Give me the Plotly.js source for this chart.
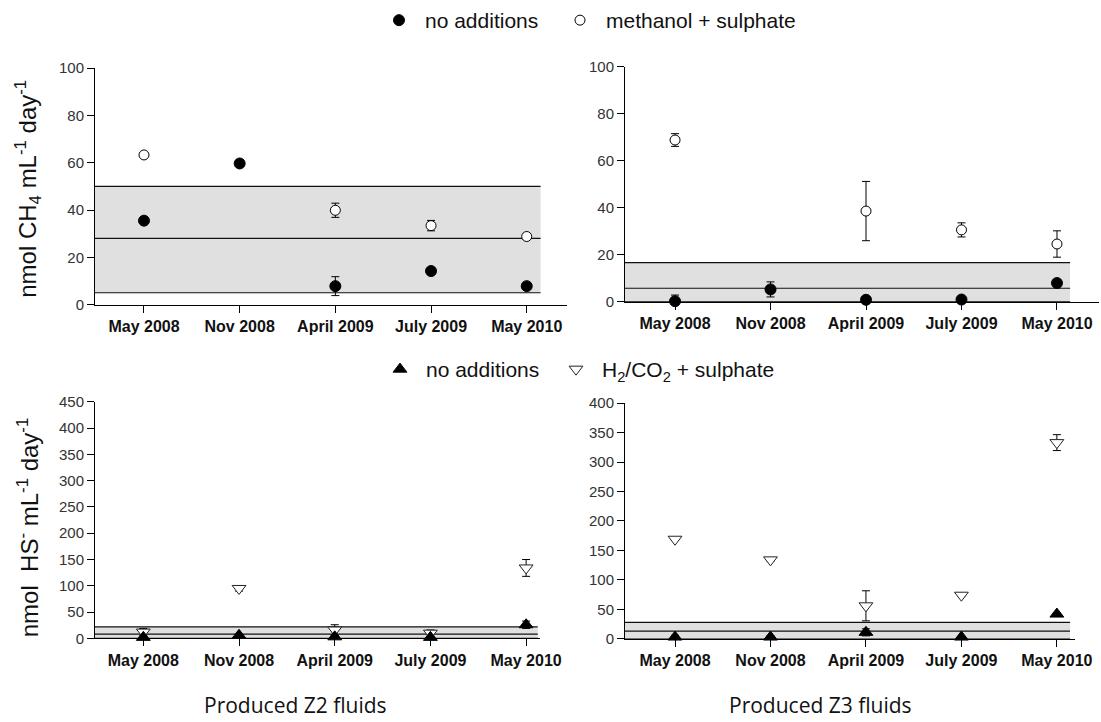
<!DOCTYPE html>
<html>
<head>
<meta charset="utf-8">
<script src="https://cdn.plot.ly/plotly-3.0.1.min.js"></script>
<style>
  html, body { margin: 0; padding: 0; background: #fff; }
  #chart { width: 1101px; height: 722px; }
</style>
</head>
<body>
<div id="chart"></div>
<script>
// Sampling campaigns (shared x categories)
const samplings = ['May 2008', 'Nov 2008', 'April 2009', 'July 2009', 'May 2010'];

// Methanogenesis rates, nmol CH4 mL-1 day-1 — Z2 fluids
const ch4Z2None    = [35.5, 59.7, 7.8, 14.2, 7.8];
const ch4Z2NoneErr = [1.0, 1.0, 4.0, 1.0, 0.8];
const ch4Z2Meth    = [63.3, null, 39.9, 33.4, 28.8];
const ch4Z2MethErr = [1.0, 0, 3.0, 2.2, 1.0];

// Methanogenesis rates — Z3 fluids
const ch4Z3None    = [0.3, 5.3, 0.9, 1.0, 8.0];
const ch4Z3NoneErr = [2.6, 3.2, 0.5, 0.5, 1.0];
const ch4Z3Meth    = [68.8, null, 38.6, 30.6, 24.6];
const ch4Z3MethErr = [2.7, 0, 12.6, 3.0, 5.6];

// Sulphide production, nmol HS- mL-1 day-1 — Z2 fluids
const hsZ2None    = [2, 6, 3, 2, 26];
const hsZ2NoneErr = [1, 1, 1, 1, 7];
const hsZ2H2      = [12, 95, 16, 10, 134];
const hsZ2H2Err   = [7, 5, 10, 6, 16];

// Sulphide production — Z3 fluids
const hsZ3None    = [3, 3, 11, 3, 42];
const hsZ3NoneErr = [3, 2, 6, 1, 2];
const hsZ3H2      = [169, 134, 56, 74, 333];
const hsZ3H2Err   = [2, 2, 25.5, 2, 13.5];

// In-situ ranges [low, mean, high] shown as shaded bands
const bandCH4Z2 = [5, 28, 50];
const bandCH4Z3 = [0, 5.8, 16.7];
const bandHSZ2  = [0, 8, 22];
const bandHSZ3  = [0, 13, 28];

const W = 1101, H = 722;
const px = v => v / W;
const py = v => 1 - v / H;

function errBar(arr) {
  return { type: 'data', array: arr, visible: true, color: '#000', thickness: 1, width: 4 };
}

function series(y, err, xa, ya, opts) {
  return Object.assign({
    type: 'scatter', mode: 'markers', x: samplings, y: y,
    xaxis: xa, yaxis: ya, error_y: errBar(err), cliponaxis: false,
    hoverinfo: 'x+y'
  }, opts);
}

const filledCircle = { symbol: 'circle', size: 11, color: '#000', line: { color: '#000', width: 1 } };
const openCircle   = { symbol: 'circle', size: 10, color: '#fff', line: { color: '#000', width: 1 } };
const filledTri    = { symbol: 'triangle-up', size: 12, color: '#000', line: { color: '#000', width: 1 } };
const openTri      = { symbol: 'triangle-down', size: 12, color: '#fff', line: { color: '#222', width: 1 } };

const traces = [
  // Z2 methane
  series(ch4Z2Meth, ch4Z2MethErr, 'x', 'y', { name: 'methanol + sulphate', marker: openCircle, legend: 'legend3' }),
  series(ch4Z2None, ch4Z2NoneErr, 'x', 'y', { name: 'no additions', marker: filledCircle, legend: 'legend' }),
  // Z3 methane
  series(ch4Z3Meth, ch4Z3MethErr, 'x2', 'y2', { name: 'methanol + sulphate', marker: openCircle, showlegend: false }),
  series(ch4Z3None, ch4Z3NoneErr, 'x2', 'y2', { name: 'no additions', marker: filledCircle, showlegend: false }),
  // Z2 sulphide
  series(hsZ2H2, hsZ2H2Err, 'x3', 'y3', { name: 'H<sub>2</sub>/CO<sub>2</sub> + sulphate', marker: openTri, legend: 'legend4' }),
  series(hsZ2None, hsZ2NoneErr, 'x3', 'y3', { name: 'no additions', marker: filledTri, legend: 'legend2' }),
  // Z3 sulphide
  series(hsZ3H2, hsZ3H2Err, 'x4', 'y4', { name: 'H<sub>2</sub>/CO<sub>2</sub> + sulphate', marker: openTri, showlegend: false }),
  series(hsZ3None, hsZ3NoneErr, 'x4', 'y4', { name: 'no additions', marker: filledTri, showlegend: false })
];

function xAxis(left, right, range, anchor) {
  return {
    domain: [px(left), px(right)], range: range, type: 'category', anchor: anchor,
    showline: true, linecolor: '#000', linewidth: 1, mirror: false,
    ticks: 'outside', ticklen: 7, tickwidth: 1, tickcolor: '#000',
    showgrid: false, zeroline: false, fixedrange: true,
    tickfont: { family: 'Arial, Liberation Sans, sans-serif', size: 16, color: '#111', weight: 'bold' }
  };
}

function yAxis(bottom, top, range, dtick, anchor) {
  return {
    domain: [py(bottom), py(top)], range: range, dtick: dtick, tick0: 0, anchor: anchor,
    showline: true, linecolor: '#000', linewidth: 1,
    ticks: 'outside', ticklen: 7, tickwidth: 1, tickcolor: '#000',
    showgrid: false, zeroline: false, fixedrange: true,
    tickfont: { family: 'Arial, Liberation Sans, sans-serif', size: 15, color: '#333' }
  };
}

// Shaded in-situ band: fill plus low / mean / high lines
function band(vals, xref, yref, endFrac) {
  const shapes = [{
    type: 'rect', layer: 'below', xref: xref + ' domain', yref: yref,
    x0: 0, x1: endFrac, y0: vals[0], y1: vals[2],
    fillcolor: '#e0e0e0', line: { width: 0 }
  }];
  vals.forEach(v => shapes.push({
    type: 'line', layer: 'below', xref: xref + ' domain', yref: yref,
    x0: 0, x1: endFrac, y0: v, y1: v,
    line: { color: '#111', width: 1.2 }
  }));
  return shapes;
}

const axisFont = { family: 'Arial, Liberation Sans, sans-serif', size: 24, color: '#111' };
const captionFont = { family: 'Open Sans, Noto Sans, sans-serif', size: 21, color: '#111' };
const legendFont = { family: 'Arial, Liberation Sans, sans-serif', size: 21, color: '#111' };

// One legend box per entry so each key sits at its own position
function legendAt(xPix, yPix) {
  return {
    orientation: 'h', xanchor: 'left', yanchor: 'middle',
    x: px(xPix), y: py(yPix),
    font: legendFont, itemwidth: 42,
    bgcolor: 'rgba(0,0,0,0)', borderwidth: 0,
    itemclick: false, itemdoubleclick: false
  };
}

const layout = {
  width: W, height: H,
  margin: { l: 0, r: 0, t: 0, b: 0 },
  paper_bgcolor: '#fff', plot_bgcolor: 'rgba(0,0,0,0)',
  xaxis:  xAxis(95, 567, [-0.512, 4.421], 'y'),
  yaxis:  yAxis(304, 67.3, [0, 100], 20, 'x'),
  xaxis2: xAxis(625, 1099, [-0.524, 4.44], 'y2'),
  yaxis2: yAxis(301.3, 65.7, [0, 100], 20, 'x2'),
  xaxis3: xAxis(95, 540, [-0.505, 4.145], 'y3'),
  yaxis3: yAxis(638.3, 401.3, [0, 450], 50, 'x3'),
  xaxis4: xAxis(625, 1075, [-0.524, 4.19], 'y4'),
  yaxis4: yAxis(638.7, 402.7, [0, 400], 50, 'x4'),
  shapes: [].concat(
    band(bandCH4Z2, 'x', 'y', 0.944),
    band(bandCH4Z3, 'x2', 'y2', 0.939),
    band(bandHSZ2, 'x3', 'y3', 0.995),
    band(bandHSZ3, 'x4', 'y4', 0.989)
  ),
  legend:  legendAt(373, 20),
  legend3: legendAt(554, 20),
  legend2: legendAt(374, 369.5),
  legend4: legendAt(550, 369.5),
  annotations: [
    { text: 'nmol CH<sub>4</sub> mL<sup>-1</sup> day<sup>-1</sup>', xref: 'paper', yref: 'paper',
      x: px(28), y: py(188), textangle: -90, xanchor: 'center', yanchor: 'middle',
      showarrow: false, font: axisFont },
    { text: 'nmol&nbsp; HS<sup>-</sup> mL<sup>-1</sup> day<sup>-1</sup>', xref: 'paper', yref: 'paper',
      x: px(28), y: py(527), textangle: -90, xanchor: 'center', yanchor: 'middle',
      showarrow: false, font: axisFont },
    { text: 'Produced Z2 fluids', xref: 'paper', yref: 'paper',
      x: px(295), y: py(705), xanchor: 'center', yanchor: 'middle',
      showarrow: false, font: captionFont },
    { text: 'Produced Z3 fluids', xref: 'paper', yref: 'paper',
      x: px(820), y: py(705), xanchor: 'center', yanchor: 'middle',
      showarrow: false, font: captionFont }
  ]
};

Plotly.newPlot('chart', traces, layout, { displayModeBar: false, responsive: false });
</script>
</body>
</html>
